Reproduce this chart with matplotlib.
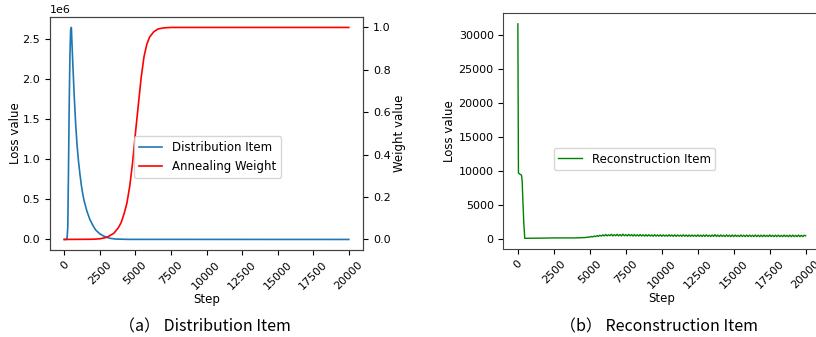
import matplotlib.pyplot as plt

# Distribution item (KL loss) vs step
dist_steps = [0, 150, 200, 250, 300, 350, 400, 450, 500, 600, 700, 800, 900, 1000,
              1100, 1200, 1300, 1400, 1600, 1800, 2000, 2200, 2500, 2800, 3200,
              3600, 4500, 20000]
dist_vals = [0.0, 0.0, 0.02e6, 0.16e6, 0.9e6, 1.7e6, 2.3e6, 2.62e6, 2.65e6, 2.2e6,
             1.8e6, 1.45e6, 1.18e6, 0.98e6, 0.82e6, 0.68e6, 0.57e6, 0.48e6, 0.35e6,
             0.25e6, 0.18e6, 0.12e6, 0.07e6, 0.04e6, 0.015e6, 0.005e6, 0.001e6, 0.0]

# Annealing weight vs step
weight_steps = [0, 2000, 2500, 3000, 3500, 3800, 4000, 4200, 4400, 4600, 4800, 5000,
                5200, 5400, 5600, 5800, 6000, 6300, 6600, 7000, 7500, 20000]
weight_vals = [0.0, 0.001, 0.003, 0.01, 0.03, 0.055, 0.08, 0.12, 0.17, 0.25, 0.36,
               0.5, 0.63, 0.76, 0.86, 0.92, 0.955, 0.98, 0.993, 0.998, 1.0, 1.0]

# Reconstruction item vs step
recon_head_steps = [0, 40, 150, 250, 300, 350, 420, 480, 1000, 1500, 2000, 2500, 3000, 3500, 3900]
recon_head_vals = [31700, 9700, 9500, 9400, 8500, 5500, 2000, 50, 60, 70, 90, 110, 110, 100, 100]
recon_tail_steps = list(range(4000, 20001, 100))
recon_tail_vals = [110, 130, 100, 150, 120, 170, 140, 200, 170, 260,
                   220, 320, 260, 380, 300, 450, 340, 500, 380, 560,
                   400, 620, 410, 580, 430, 650, 400, 600, 420, 640,
                   410, 610, 400, 660, 420, 590, 400, 630, 410, 600,
                   390, 600, 400, 580, 380, 610, 390, 570, 380, 590,
                   370, 580, 380, 560, 360, 590, 370, 550, 360, 570,
                   350, 560, 370, 540, 350, 580, 360, 550, 340, 560,
                   340, 550, 360, 530, 340, 570, 350, 540, 330, 550,
                   330, 540, 350, 520, 330, 560, 340, 530, 320, 550,
                   330, 560, 340, 520, 320, 540, 330, 590, 320, 530,
                   320, 540, 330, 510, 310, 550, 320, 520, 310, 540,
                   310, 530, 330, 500, 310, 540, 320, 510, 300, 530,
                   310, 520, 320, 500, 300, 540, 310, 510, 300, 520,
                   300, 530, 320, 500, 300, 550, 310, 500, 300, 520,
                   300, 520, 310, 490, 300, 530, 310, 500, 290, 520,
                   290, 520, 310, 490, 300, 530, 300, 500, 290, 510,
                   420]

xticks = [0, 2500, 5000, 7500, 10000, 12500, 15000, 17500, 20000]

plt.rcParams['font.size'] = 8
plt.rcParams['axes.edgecolor'] = '#444444'

fig = plt.figure(figsize=(8.16, 3.37), dpi=100)

# ---- (a) Distribution Item
ax = fig.add_axes([0.0613, 0.258, 0.3836, 0.692])
l1, = ax.plot(dist_steps, dist_vals, color='#1f77b4', linewidth=1.2, label='Distribution Item')
ax.set_ylabel('Loss value', fontsize=8.5, labelpad=0.5)
ax.set_xlabel('Step', fontsize=8.5, labelpad=1)
ax.set_xticks(xticks)
ax.tick_params(axis='x', labelrotation=45)

ax2 = ax.twinx()
l2, = ax2.plot(weight_steps, weight_vals, color='red', linewidth=1.2, label='Annealing Weight')
ax2.set_ylabel('Weight value', fontsize=8.5, labelpad=2)
ax2.set_yticks([0.0, 0.2, 0.4, 0.6, 0.8, 1.0])

ax2.legend(handles=[l1, l2], loc='center', bbox_to_anchor=(0.2543, 0.534),
           bbox_transform=fig.transFigure, fontsize=8.5)

# ---- (b) Reconstruction Item
bx = fig.add_axes([0.617, 0.261, 0.388, 0.700])
bx.plot(recon_head_steps + recon_tail_steps, recon_head_vals + recon_tail_vals,
        color='green', linewidth=1.0, label='Reconstruction Item')
bx.set_ylabel('Loss value', fontsize=8.5, labelpad=2)
bx.set_xlabel('Step', fontsize=8.5, labelpad=1)
bx.set_xticks(xticks)
bx.tick_params(axis='x', labelrotation=45)
bx.legend(loc='center', bbox_to_anchor=(0.7776, 0.528),
          bbox_transform=fig.transFigure, fontsize=8.5)

# captions
cap_font = ['Noto Sans CJK SC', 'DejaVu Sans']
fig.text(0.251, 0.03, '（a） Distribution Item', ha='center', va='center',
         fontsize=11.5, family=cap_font)
fig.text(0.808, 0.03, '（b） Reconstruction Item', ha='center', va='center',
         fontsize=11.5, family=cap_font)

fig.savefig('out.png', dpi=100)
